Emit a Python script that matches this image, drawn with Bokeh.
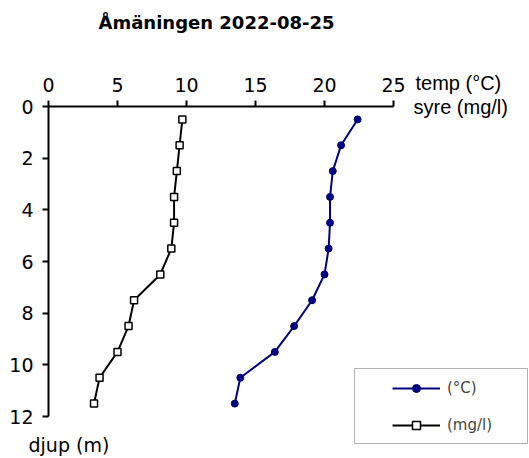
from bokeh.plotting import figure
from bokeh.models import Range1d, FixedTicker, Label, Legend, LegendItem, BoxAnnotation, ColumnDataSource
from bokeh.embed import file_html
from bokeh.resources import INLINE

# Data
depth = [0.5, 1.5, 2.5, 3.5, 4.5, 5.5, 6.5, 7.5, 8.5, 9.5, 10.5, 11.5]
temp = [22.4, 21.2, 20.6, 20.4, 20.4, 20.3, 20.0, 19.1, 17.8, 16.4, 13.9, 13.5]
oxygen = [9.7, 9.5, 9.3, 9.1, 9.1, 8.9, 8.1, 6.2, 5.8, 5.0, 3.7, 3.3]
x_ticks = [0, 5, 10, 15, 20, 25]
y_ticks = [0, 2, 4, 6, 8, 10, 12]
title_text = "Åmäningen 2022-08-25"
temp_label = "(°C)"
oxy_label = "(mg/l)"

FONT = "DejaVu Sans"
FONT2 = "Liberation Sans"
W, H = 529, 458
# pixel placement of the axes inside the canvas
X0_PX, X25_PX = 48, 393
Y0_PX, Y12_PX = 106, 416
kx = (X25_PX - X0_PX) / 25.0
ky = (Y12_PX - Y0_PX) / 12.0

src = ColumnDataSource(dict(depth=depth, temp=temp, oxygen=oxygen))

p = figure(width=W, height=H, output_backend="svg", toolbar_location=None,
           x_range=Range1d(-X0_PX / kx, (W - X0_PX) / kx),
           y_range=Range1d((H - Y0_PX) / ky, -Y0_PX / ky),
           x_axis_location="above",
           min_border=0, min_border_left=0, min_border_right=0,
           min_border_top=0, min_border_bottom=0)
p.outline_line_color = None
p.xgrid.visible = False
p.ygrid.visible = False
p.background_fill_color = "white"
p.border_fill_color = "white"

for ax, ticks, b in ((p.xaxis, x_ticks, (0, 25)), (p.yaxis, y_ticks, (0, 12))):
    ax.ticker = FixedTicker(ticks=ticks)
    ax.fixed_location = 0
    ax.bounds = b
    ax.minor_tick_line_color = None
    ax.major_tick_in = 0
    ax.major_tick_out = 6
    ax.axis_line_width = 2
    ax.major_tick_line_width = 2
    ax.axis_line_color = "black"
    ax.major_tick_line_color = "black"
    ax.major_label_text_font = FONT
    ax.major_label_text_font_size = "19px"
    ax.major_label_text_color = "black"
p.xaxis.major_label_standoff = 9
p.yaxis.major_label_standoff = 9

lt = p.line("temp", "depth", source=src, line_color="#000080", line_width=2)
st = p.scatter("temp", "depth", source=src, marker="circle", size=7,
               fill_color="#000080", line_color="#000080")
lo = p.line("oxygen", "depth", source=src, line_color="black", line_width=2)
so = p.scatter("oxygen", "depth", source=src, marker="square", size=7,
               fill_color="white", line_color="black", line_width=1.5)

def lab(x, y, text, size="19px", style="normal", align="left", font=FONT):
    # x, y in canvas pixels from the top-left corner
    p.add_layout(Label(x=x, y=H - y, x_units="screen", y_units="screen", text=text,
                       text_font=font, text_font_size=size, text_font_style=style,
                       text_align=align, text_baseline="alphabetic", text_color="black"))

lab(216, 22, title_text, size="18px", style="bold", align="center")
lab(415, 82, "temp (°C)", size="20px", font=FONT2)
lab(413, 106, "syre (mg/l)", size="20px", font=FONT2)
lab(28, 444, "djup (m)", size="19px")

# Legend frame
p.add_layout(BoxAnnotation(left=354, right=527, top=H - 368, bottom=H - 443,
                           left_units="screen", right_units="screen",
                           top_units="screen", bottom_units="screen",
                           fill_color=None, fill_alpha=0, line_color="black", line_width=1))

legend = Legend(items=[LegendItem(label=temp_label, renderers=[lt, st]),
                       LegendItem(label=oxy_label, renderers=[lo, so])],
                location=(392, H - 435), padding=0, margin=0, spacing=17,
                glyph_width=48, glyph_height=20, label_height=20, label_standoff=7,
                label_text_font=FONT, label_text_font_size="15px",
                border_line_color=None, background_fill_alpha=0)
p.add_layout(legend)

open("out.html", "w").write(file_html(p, INLINE))
